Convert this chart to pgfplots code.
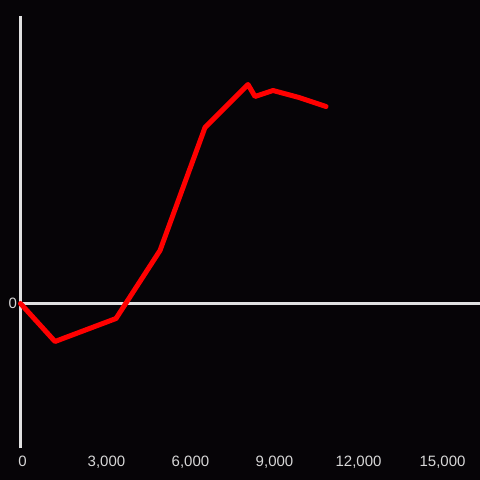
\documentclass[border=0pt]{standalone}
\usepackage{pgfplots}
\pgfplotsset{compat=1.18}
\usepackage{fontspec}
\setmainfont{Liberation Sans}
\definecolor{bg}{RGB}{6,4,7}
\definecolor{axisgray}{RGB}{224,224,224}
\definecolor{labelgray}{RGB}{215,215,215}
\definecolor{linered}{RGB}{255,0,0}
\begin{document}
\begin{tikzpicture}
\fill[bg] (0,0) rectangle (480pt,480pt);
\begin{axis}[
  at={(20.5pt,31.5pt)}, anchor=south west,
  scale only axis, width=459.5pt, height=432pt,
  xmin=0, xmax=16410, ymin=-145, ymax=287,
  axis x line=bottom, axis y line=left,
  x axis line style={draw=none},
  y axis line style={draw=axisgray, line width=3pt, -},
  major tick length=0pt,
  scaled ticks=false,
  xtick={0,3000,6000,9000,12000,15000},
  xticklabels={0,{3,000},{6,000},{9,000},{12,000},{15,000}},
  ytick={0}, yticklabels={0},
  tick label style={font=\fontsize{15}{15}\selectfont, text=labelgray},
  xticklabel style={yshift=-3.5pt, xshift=2pt},
  /pgf/number format/assume math mode=true,
  clip=false,
]
\addplot[axisgray, line width=3pt] coordinates {(0,0) (16410,0)};
\addplot[linered, line width=5pt, line join=round, line cap=round] coordinates {
(0,0) (1232,-38) (3411,-15) (4982,53) (6589,176) (8125,219) (8375,207) (9018,213) (9946,206) (10911,197)
};
\end{axis}
\pgfresetboundingbox
\path[use as bounding box] (0,0) rectangle (480pt,480pt);
\end{tikzpicture}
\end{document}
